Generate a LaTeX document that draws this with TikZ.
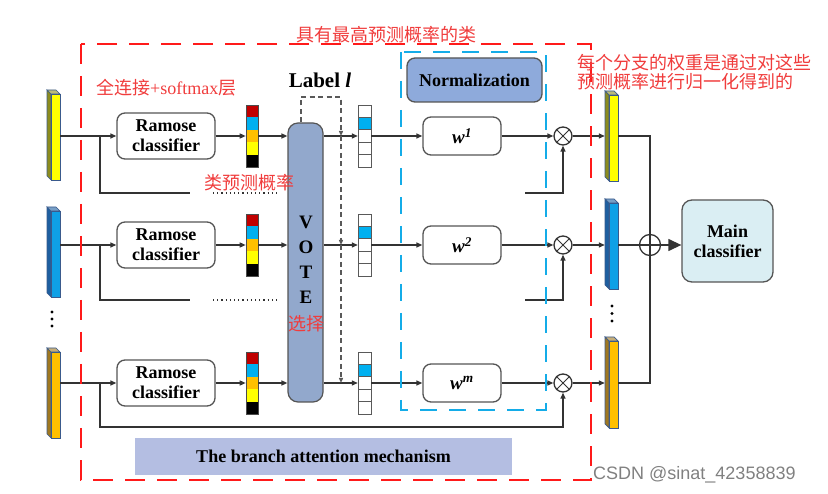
\documentclass[tikz,border=0pt]{standalone}
\usepackage{fontspec}
\setmainfont{Liberation Serif}
\newfontfamily\cjk{Noto Sans CJK SC}
\newfontfamily\wmfont{Liberation Sans}
\usetikzlibrary{arrows.meta,fit}
\definecolor{pred}{HTML}{C00000}
\definecolor{pcyan}{HTML}{00B0F0}
\definecolor{porange}{HTML}{FFC000}
\definecolor{pyellow}{HTML}{FFFF00}
\definecolor{fyellow}{HTML}{FFFF00}
\definecolor{fyellowside}{HTML}{8C8C1E}
\definecolor{fblue}{HTML}{0FA0E6}
\definecolor{fblueside}{HTML}{1E5FA0}
\definecolor{forange}{HTML}{FFC000}
\definecolor{forangeside}{HTML}{A07820}
\definecolor{featedge}{HTML}{3A5A8C}
\definecolor{votefill}{HTML}{92A8CC}
\definecolor{normfill}{HTML}{8EAADB}
\definecolor{bamfill}{HTML}{B4BEE2}
\definecolor{mainfill}{HTML}{DAEEF3}
\definecolor{redline}{HTML}{FF1A1A}
\definecolor{redtext}{HTML}{F03C3C}
\definecolor{blueline}{HTML}{14ACE8}
\definecolor{linec}{HTML}{333333}
\definecolor{boxedge}{HTML}{555555}

\newcommand{\mkfeat}[5]{%
 \filldraw[fill=#5side, draw=featedge, line width=0.7pt] (#2,#3) -- (#2+4,#3+4) -- (#2+4,#4) -- (#2,#4-4) -- cycle;
 \filldraw[fill=#5side!60!white, draw=featedge, line width=0.7pt] (#2,#3) -- (#2+9,#3) -- (#2+13,#3+4) -- (#2+4,#3+4) -- cycle;
 \filldraw[fill=#5, draw=featedge, line width=0.7pt] (#2+4,#3+4) rectangle (#2+13,#4);
 \node[fit={(#2,#3) (#2+13,#4)}, inner sep=0pt] (#1) {};
}
\newcommand{\mkprob}[3]{%
 \foreach \cc [count=\ii from 0] in {pred,pcyan,porange,pyellow,black}
   \fill[\cc] (#2,#3-31+12.4*\ii) rectangle (#2+12,#3-31+12.4*\ii+12.4);
 \node[fit={(#2,#3-31) (#2+12,#3+31)}, inner sep=0pt, draw=gray!60!black, line width=0.6pt] (#1) {};
}
\newcommand{\mkonehot}[3]{%
 \foreach \ii in {0,...,4}
   \draw[draw=gray!70!black, line width=0.7pt, fill=white] (#2,#3-31+12.4*\ii) rectangle (#2+13,#3-31+12.4*\ii+12.4);
 \filldraw[draw=gray!70!black, line width=0.7pt, fill=pcyan] (#2,#3-31+12.4) rectangle (#2+13,#3-31+24.8);
 \node[fit={(#2,#3-31) (#2+13,#3+31)}, inner sep=0pt] (#1) {};
}

\begin{document}
\begin{tikzpicture}[x=1pt,y=-1pt,
  ln/.style={draw=linec, line width=1.3pt},
  arr/.style={ln, -{Triangle[length=6pt,width=5pt]}},
  bigarr/.style={ln, -{Triangle[length=13pt,width=12pt]}},
  gdash/.style={draw=gray!70!black, line width=1.3pt, dash pattern=on 5pt off 3.5pt},
  gtip/.style={-{Triangle[length=5pt,width=4pt]}},
  ramose/.style={draw=boxedge, line width=1.3pt, rounded corners=8pt, minimum width=98pt, minimum height=46pt, inner sep=0pt, align=center, font=\bfseries\fontsize{18}{20}\selectfont, fill=white},
  wbox/.style={draw=boxedge, line width=1.3pt, rounded corners=8pt, minimum width=78pt, minimum height=38pt, inner sep=0pt, font=\bfseries\itshape\fontsize{19}{20}\selectfont, fill=white},
  otimes/.style={circle, draw=linec, line width=1.3pt, minimum size=18pt, inner sep=0pt, fill=white},
  redtxt/.style={text=redtext, font=\cjk\fontsize{18}{19}\selectfont, inner sep=0pt},
  bigbf/.style={font=\bfseries\fontsize{18}{20}\selectfont},
]
\useasboundingbox (0,0) rectangle (828,494);

% feature bars
\mkfeat{f1}{47}{90}{180}{fyellow}
\mkfeat{f2}{47}{207}{297}{fblue}
\mkfeat{f3}{47}{348}{438}{forange}
\mkfeat{g1}{605}{91}{181}{fyellow}
\mkfeat{g2}{605}{199}{289}{fblue}
\mkfeat{g3}{605}{337}{428}{forange}
\foreach \yy in {312,319,326} \fill[black] (52,\yy) circle (1.7pt);
\foreach \yy in {306,313.5,321} \fill[black] (612,\yy) circle (1.7pt);

% ramose classifiers
\node[ramose] (r1) at (166,136) {Ramose\\classifier};
\node[ramose] (r2) at (166,245) {Ramose\\classifier};
\node[ramose] (r3) at (166,383) {Ramose\\classifier};

% probability bars
\mkprob{p1}{246}{136}
\mkprob{p2}{246}{245}
\mkprob{p3}{246}{383}

% VOTE
\node[draw=boxedge, fill=votefill, rounded corners=10pt, minimum width=35pt, minimum height=279pt, line width=1.2pt, inner sep=0pt] (vote) at (305.5,262.5) {};
\node[font=\bfseries\fontsize{19}{25}\selectfont, align=center, inner sep=0pt] (votetxt) at (306,260) {V\\O\\T\\E};

% one-hot vectors
\mkonehot{o1}{358}{136}
\mkonehot{o2}{358}{245}
\mkonehot{o3}{358}{383}

% weights
\node[wbox] (w1) at (462,136) {w\textsuperscript{1}};
\node[wbox] (w2) at (462,245) {w\textsuperscript{2}};
\node[wbox] (w3) at (462,383) {w\textsuperscript{m}};

% multipliers
\node[otimes] (m1) at (563,136) {};
\node[otimes] (m2) at (563,245) {};
\node[otimes] (m3) at (563,383) {};
\foreach \m in {m1,m2,m3}
  \draw[draw=linec, line width=1pt] (\m.north west) -- (\m.south east) (\m.north east) -- (\m.south west);

% main classifier & sum
\node[draw=boxedge, fill=mainfill, rounded corners=10pt, line width=1.3pt, minimum width=91pt, minimum height=82pt, align=center, bigbf] (main) at (727.5,241) {Main\\classifier};
\node[circle, draw=linec, line width=1.3pt, minimum size=21pt, inner sep=0pt] (plus) at (650,245) {};

% row connectors
\foreach \i in {1,2,3}{
  \draw[arr] (f\i.east |- r\i.west) -- (r\i.west);
  \draw[arr] (r\i.east) -- (p\i.west);
  \draw[arr] (p\i.east) -- (vote.west |- p\i.east);
  \draw[arr] (vote.east |- o\i.west) -- (o\i.west);
  \draw[arr] (o\i.east) -- (w\i.west);
  \draw[arr] (w\i.east) -- (m\i.west);
  \draw[arr] (m\i.east) -- (g\i.west |- m\i.east);
}

% skip branches
\coordinate (s1) at (100,193); \coordinate (s1e) at (190,193);
\coordinate (d1a) at (213,193); \coordinate (d1b) at (277,193);
\coordinate (t1) at (525,193);
\coordinate (s2) at (100,300); \coordinate (s2e) at (190,300);
\coordinate (d2a) at (213,300); \coordinate (d2b) at (277,300);
\coordinate (t2) at (525,300);
\coordinate (s3) at (100,427);
\draw[ln] (s1 |- r1.west) -- (s1) -- (s1e);
\draw[ln] (s2 |- r2.west) -- (s2) -- (s2e);
\draw[draw=linec, line width=1.2pt, dash pattern=on 1.2pt off 3pt] (d1a) -- (d1b);
\draw[draw=linec, line width=1.2pt, dash pattern=on 1.2pt off 3pt] (d2a) -- (d2b);
\draw[arr] (t1) -- (m1.south |- t1) -- (m1.south);
\draw[arr] (t2) -- (m2.south |- t2) -- (m2.south);
\draw[arr] (s3 |- r3.west) -- (s3) -- (m3.south |- s3) -- (m3.south);

% right side aggregation
\draw[ln] (g1.east |- m1.east) -- (plus.north |- m1.east) -- (plus.north);
\draw[ln] (g3.east |- m3.east) -- (plus.south |- m3.east) -- (plus.south);
\draw[ln] (plus.north) -- (plus.south);
\draw[ln] (g2.east |- m2.east) -- (plus.west) -- (plus.east);
\draw[bigarr] (plus.east) -- (main.west |- plus.east);

% Label l dashed path
\node[font=\bfseries\fontsize{21}{22}\selectfont, inner sep=0pt] (label) at (320,80) {Label \textit{l}};
\coordinate (lb1) at (301,97); \coordinate (lb2) at (341,97);
\draw[gdash, gtip] (lb1 |- vote.north) -- (lb1) -- (lb2) -- (lb2 |- o1.west);
\draw[gdash, gtip] (lb2 |- o1.west) -- (lb2 |- o2.west);
\draw[gdash, gtip] (lb2 |- o2.west) -- (lb2 |- o3.west);

% normalization
\node[draw=boxedge, fill=normfill, rounded corners=8pt, line width=1.3pt, minimum width=135pt, minimum height=44pt, bigbf] (norm) at (474.5,80) {Normalization};

% branch attention label
\node[fill=bamfill, minimum width=377pt, minimum height=37pt, bigbf] (bam) at (323.5,456.5) {The branch attention mechanism};

% dashed frames
\draw[redline, line width=2.8pt, dash pattern=on 20pt off 12pt] (81,44) rectangle (591,480);
\draw[blueline, line width=2.8pt, dash pattern=on 17pt off 12pt] (401,52) rectangle (546,410);

% red annotations
\node[redtxt] (title) at (386,35) {具有最高预测概率的类};
\node[redtxt, anchor=west] (fc) at (96,88) {全连接{\rmfamily +softmax}层};
\node[redtxt, anchor=west] (cls) at (204,183) {类预测概率};
\node[redtxt] (xz) at (306,324) {选择};
\node[redtxt, anchor=west, align=left] (note) at (577,72.5) {每个分支的权重是通过对这些\\预测概率进行归一化得到的};

% watermark
\node[anchor=west, text=gray, font=\wmfont\fontsize{18}{19}\selectfont, inner sep=0pt] (wm) at (593,475) {CSDN @sinat\_42358839};
\end{tikzpicture}
\end{document}
